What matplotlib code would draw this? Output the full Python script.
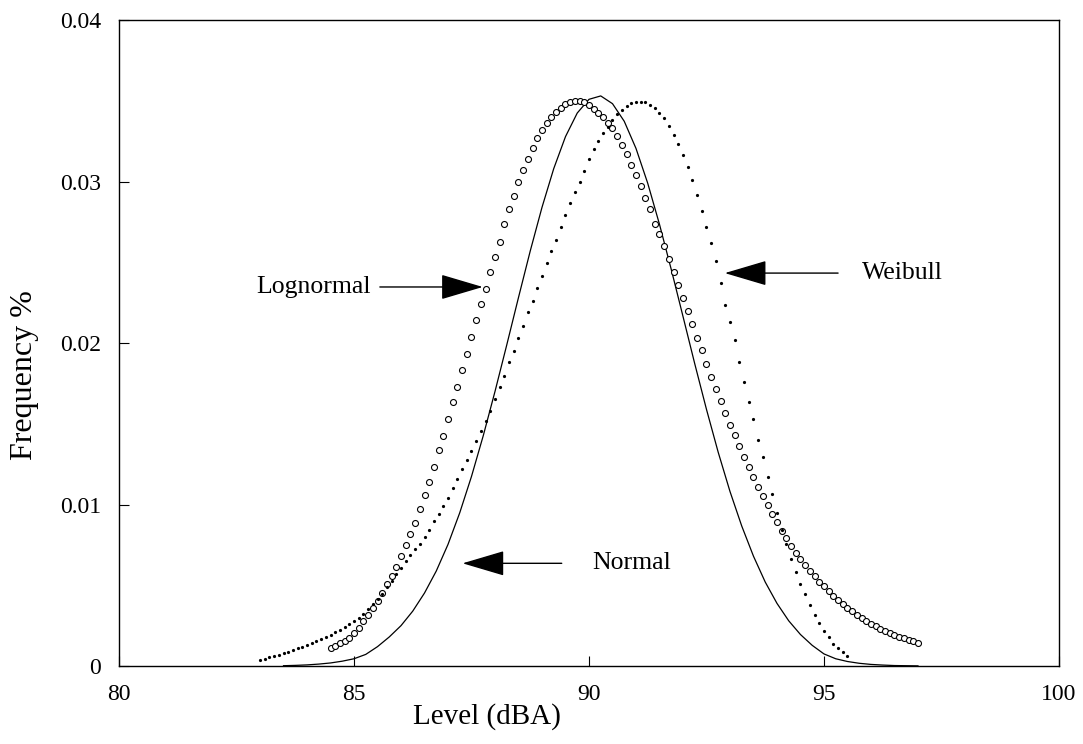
import numpy as np
import matplotlib
matplotlib.use("Agg")
import matplotlib.pyplot as plt

plt.rcParams["font.family"] = ["Liberation Serif", "DejaVu Serif"]

# Normal curve, sampled every 0.25 dBA from 83.5
normal_start, normal_step = 83.5, 0.25
normal_y = [0.00002, 0.00004, 0.00007, 0.00012, 0.00019, 0.00030, 0.00045, 0.00072,
            0.00120, 0.00180, 0.00250, 0.00340, 0.00452, 0.00588, 0.00753, 0.00949,
            0.01174, 0.01426, 0.01700, 0.01988, 0.02282, 0.02570, 0.02840, 0.03080,
            0.03278, 0.03424, 0.03509, 0.03530, 0.03482, 0.03373, 0.03205, 0.02989,
            0.02735, 0.02456, 0.02165, 0.01872, 0.01589, 0.01323, 0.01081, 0.00867,
            0.00680, 0.00520, 0.00388, 0.00280, 0.00195, 0.00128, 0.00075, 0.00045,
            0.00028, 0.00017, 0.00010, 0.00006, 0.00003, 0.00002, 0.00001]

# Lognormal curve (open circles), every 0.1 dBA from 84.5
logn_start, logn_step = 84.5, 0.1
logn_y = [0.00112, 0.00125, 0.00140, 0.00157, 0.00175, 0.00202, 0.00238, 0.00278,
          0.00318, 0.00358, 0.00405, 0.00455, 0.00505, 0.00556, 0.00612, 0.00683,
          0.00748, 0.00815, 0.00885, 0.00970, 0.01058, 0.01142, 0.01232, 0.01340,
          0.01427, 0.01530, 0.01633, 0.01730, 0.01833, 0.01930, 0.02040, 0.02145,
          0.02243, 0.02335, 0.02440, 0.02535, 0.02625, 0.02735, 0.02830, 0.02912,
          0.02998, 0.03072, 0.03142, 0.03210, 0.03268, 0.03318, 0.03360, 0.03398,
          0.03430, 0.03458, 0.03478, 0.03492, 0.03499, 0.03499, 0.03492, 0.03472,
          0.03448, 0.03424, 0.03397, 0.03365, 0.03330, 0.03282, 0.03228, 0.03170,
          0.03102, 0.03038, 0.02972, 0.02899, 0.02827, 0.02740, 0.02676, 0.02600,
          0.02518, 0.02438, 0.02360, 0.02280, 0.02200, 0.02115, 0.02030, 0.01955,
          0.01868, 0.01792, 0.01713, 0.01643, 0.01565, 0.01495, 0.01432, 0.01365,
          0.01296, 0.01230, 0.01169, 0.01110, 0.01054, 0.00997, 0.00940, 0.00889,
          0.00838, 0.00792, 0.00746, 0.00700, 0.00663, 0.00625, 0.00590, 0.00556,
          0.00521, 0.00493, 0.00465, 0.00436, 0.00409, 0.00383, 0.00359, 0.00338,
          0.00314, 0.00295, 0.00276, 0.00259, 0.00246, 0.00231, 0.00216, 0.00204,
          0.00192, 0.00182, 0.00172, 0.00162, 0.00152, 0.00143]

# Weibull curve (dots), every 0.1 dBA from 83.0
weib_start, weib_step = 83.0, 0.1
weib_y = [0.00037, 0.00045, 0.00054, 0.00062, 0.00071, 0.00080, 0.00089, 0.00099,
          0.00109, 0.00119, 0.00130, 0.00141, 0.00153, 0.00166, 0.00179, 0.00193,
          0.00208, 0.00223, 0.00240, 0.00258, 0.00278, 0.00300, 0.00325, 0.00352,
          0.00382, 0.00413, 0.00448, 0.00487, 0.00528, 0.00570, 0.00610, 0.00648,
          0.00686, 0.00722, 0.00758, 0.00796, 0.00840, 0.00895, 0.00942, 0.00990,
          0.01042, 0.01102, 0.01157, 0.01217, 0.01278, 0.01330, 0.01394, 0.01456,
          0.01515, 0.01580, 0.01654, 0.01725, 0.01795, 0.01880, 0.01948, 0.02030,
          0.02105, 0.02190, 0.02260, 0.02338, 0.02418, 0.02497, 0.02570, 0.02640,
          0.02718, 0.02795, 0.02870, 0.02935, 0.03000, 0.03068, 0.03140, 0.03200,
          0.03253, 0.03298, 0.03340, 0.03382, 0.03415, 0.03442, 0.03467, 0.03484,
          0.03492, 0.03495, 0.03490, 0.03476, 0.03456, 0.03426, 0.03392, 0.03344,
          0.03288, 0.03232, 0.03165, 0.03092, 0.03010, 0.02917, 0.02820, 0.02717,
          0.02617, 0.02507, 0.02370, 0.02238, 0.02130, 0.02017, 0.01885, 0.01760,
          0.01637, 0.01530, 0.01398, 0.01294, 0.01169, 0.01063, 0.00950, 0.00842,
          0.00755, 0.00664, 0.00580, 0.00509, 0.00446, 0.00378, 0.00316, 0.00264,
          0.00219, 0.00177, 0.00138, 0.00110, 0.00089, 0.00064]

x_ticks = [80, 85, 90, 95, 100]
y_ticks = [0, 0.01, 0.02, 0.03, 0.04]
y_tick_labels = ["0", "0.01", "0.02", "0.03", "0.04"]

# label text, arrow tip, arrow tail, text anchor
labels = {
    "Lognormal": ((87.74, 0.02347), (85.55, 0.02347), (85.35, 0.02347), "right"),
    "Weibull": ((92.89, 0.02433), (95.30, 0.02433), (95.81, 0.02433), "left"),
    "Normal": ((87.31, 0.00636), (89.42, 0.00636), (90.06, 0.00636), "left"),
}

normal_x = normal_start + normal_step * np.arange(len(normal_y))
logn_x = logn_start + logn_step * np.arange(len(logn_y))
weib_x = weib_start + weib_step * np.arange(len(weib_y))

fig = plt.figure(figsize=(10.83, 7.44), dpi=100)
ax = fig.add_axes([0.1099, 0.1048, 0.8679, 0.8683])

ax.plot(normal_x, normal_y, color="black", lw=0.9)
ax.plot(logn_x, logn_y, ls="none", marker="o", ms=4.3, mfc="white",
        mec="black", mew=0.8)
ax.plot(weib_x, weib_y, ls="none", marker="o", ms=2.3, mfc="black",
        mec="black", mew=0)

for name, (tip, tail, txt, ha) in labels.items():
    ax.annotate("", xy=tip, xytext=tail,
                arrowprops=dict(arrowstyle="-|>,head_length=2.7,head_width=0.8",
                                color="black", lw=1.0, shrinkA=0, shrinkB=0))
    ax.text(txt[0], txt[1], name, ha=ha, va="center", fontsize=18.5)

ax.set_xlim(80, 100)
ax.set_ylim(0, 0.04)
ax.set_xticks(x_ticks)
ax.set_yticks(y_ticks)
ax.set_yticklabels(y_tick_labels)
ax.tick_params(direction="in", length=7.5, width=0.8, labelsize=17, pad=13,
               top=False, right=False)
for s in ax.spines.values():
    s.set_linewidth(1.0)

ax.set_xlabel("Level (dBA)", fontsize=21)
ax.xaxis.set_label_coords(0.391, -0.058)
ax.set_ylabel("Frequency %", fontsize=23)
ax.yaxis.set_label_coords(-0.085, 0.45)

fig.savefig("out.png", dpi=100)
